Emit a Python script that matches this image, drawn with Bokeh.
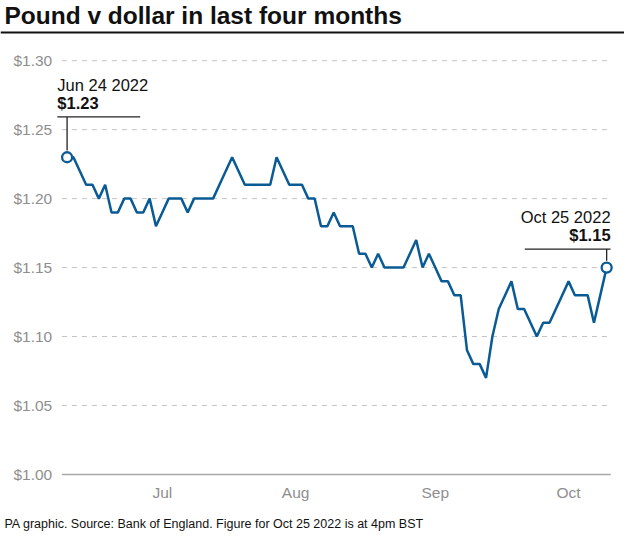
import numpy as np
import pandas as pd
from bokeh.plotting import figure
from bokeh.models import Range1d
from bokeh.core.properties import value
from bokeh.embed import file_html
from bokeh.resources import INLINE

# ---------------- data ----------------
title_text = "Pound v dollar in last four months"
footer_text = "PA graphic. Source: Bank of England. Figure for Oct 25 2022 is at 4pm BST"

bank_holidays = ["2022-08-29", "2022-09-19"]
dates = pd.bdate_range("2022-06-24", "2022-10-25")
dates = dates[~dates.isin(pd.to_datetime(bank_holidays))]

rates = [
    1.23, 1.23, 1.22, 1.21, 1.21, 1.20, 1.21, 1.19, 1.19, 1.20,
    1.20, 1.19, 1.19, 1.20, 1.18, 1.19, 1.20, 1.20, 1.20, 1.19,
    1.20, 1.20, 1.20, 1.20, 1.21, 1.22, 1.23, 1.22, 1.21, 1.21,
    1.21, 1.21, 1.21, 1.23, 1.22, 1.21, 1.21, 1.21, 1.20, 1.20,
    1.18, 1.18, 1.19, 1.18, 1.18, 1.18, 1.16, 1.16, 1.15, 1.16,
    1.15, 1.15, 1.15, 1.15, 1.16, 1.17, 1.15, 1.16, 1.15, 1.14,
    1.14, 1.13, 1.13, 1.09, 1.08, 1.08, 1.07, 1.10, 1.12, 1.13,
    1.14, 1.12, 1.12, 1.11, 1.10, 1.11, 1.11, 1.12, 1.13, 1.14,
    1.13, 1.13, 1.13, 1.11, 1.13, 1.15,
]

month_labels = ["Jul", "Aug", "Sep", "Oct"]
month_label_dates = ["2022-07-15", "2022-08-15", "2022-09-15", "2022-10-15"]
y_ticks = [1.00, 1.05, 1.10, 1.15, 1.20, 1.25, 1.30]
y_tick_labels = [f"${v:.2f}" for v in y_ticks]

# ---------------- layout ----------------
BLUE = "#0a5b94"
GREY_TXT = "#8e8e8e"
INK = "#111111"
FONT = "Liberation Sans"

W, H = 624, 539
SX, SY = W / 640, H / 555          # design grid (640x555) -> canvas

FRAME_L, FRAME_R = 63 * SX, 626 * SX
FRAME_T, FRAME_B = 62 * SY, 488 * SY
FIRST_PX, LAST_PX = 68.3 * SX, 621.7 * SX

n = len(rates)
XPP = (n - 1) / (LAST_PX - FIRST_PX)           # data units per canvas px
YPP = (y_ticks[-1] - y_ticks[0]) / (FRAME_B - FRAME_T)
X0 = 0 - FIRST_PX * XPP
X1 = X0 + W * XPP
Y1 = y_ticks[-1] + FRAME_T * YPP
Y0 = Y1 - H * YPP

def dx(px):
    return X0 + px * XPP

def dy(py):
    return Y1 - py * YPP

idx = np.arange(n)
tick_pos = [int(np.searchsorted(dates.values, np.datetime64(d))) for d in month_label_dates]

p = figure(width=W, height=H, output_backend="svg", toolbar_location=None,
           x_range=Range1d(X0, X1), y_range=Range1d(Y0, Y1),
           x_axis_location=None, y_axis_location=None,
           min_border_left=0, min_border_right=0, min_border_top=0, min_border_bottom=0)
p.outline_line_color = None
p.background_fill_color = "white"
p.border_fill_color = "white"
p.grid.visible = False

# grid lines (dashed) and baseline (solid)
k = len(y_ticks) - 1
p.segment(x0=[dx(FRAME_L)] * k, x1=[dx(FRAME_R)] * k, y0=y_ticks[1:], y1=y_ticks[1:],
          line_color="#c4c4c4", line_width=1, line_dash="5 5")
p.segment(x0=[dx(FRAME_L)], x1=[dx(FRAME_R)], y0=[y_ticks[0]], y1=[y_ticks[0]],
          line_color="#a9a9a9", line_width=1.5)

# y tick labels
p.text(x=[dx(53 * SX)] * len(y_ticks), y=y_ticks, text=y_tick_labels,
       text_font=value(FONT), text_font_size="15.5px", text_color=GREY_TXT,
       text_align="right", text_baseline="middle")
# x tick labels
p.text(x=tick_pos, y=[dy(507 * SY)] * len(tick_pos), text=month_labels,
       text_font=value(FONT), text_font_size="15.5px", text_color=GREY_TXT,
       text_align="center", text_baseline="middle")

# series
p.line(idx, rates, line_color=BLUE, line_width=2.5)
p.scatter([idx[0], idx[-1]], [rates[0], rates[-1]], size=10, marker="circle",
          fill_color="white", line_color=BLUE, line_width=2.3)

def fmt_date(d):
    return f"{d:%b} {d.day} {d.year}"

def ox(px):
    return px * SX * XPP

def oy(px):
    return px * SY * YPP

# annotation: first point
fx, fy = idx[0], rates[0]
p.segment(x0=[fx + ox(-10)], y0=[fy + oy(41.5)], x1=[fx + ox(75)], y1=[fy + oy(41.5)],
          line_color="#222222", line_width=1.3)
p.segment(x0=[fx], y0=[fy + oy(41.5)], x1=[fx], y1=[fy + oy(7)],
          line_color="#222222", line_width=1.3)
p.text(x=[fx + ox(-10)], y=[fy + oy(74)], text=[fmt_date(dates[0])],
       text_font=value(FONT), text_font_size="16.5px", text_color=INK,
       text_align="left", text_baseline="middle")
p.text(x=[fx + ox(-10)], y=[fy + oy(56)], text=[f"${rates[0]:.2f}"],
       text_font=value(FONT), text_font_size="16.5px", text_font_style="bold", text_color=INK,
       text_align="left", text_baseline="middle")

# annotation: last point
lx, ly = idx[-1], rates[-1]
p.segment(x0=[lx + ox(-84)], y0=[ly + oy(19)], x1=[lx + ox(4)], y1=[ly + oy(19)],
          line_color="#222222", line_width=1.3)
p.segment(x0=[lx], y0=[ly + oy(19)], x1=[lx], y1=[ly + oy(7)],
          line_color="#222222", line_width=1.3)
p.text(x=[lx + ox(4)], y=[ly + oy(52)], text=[fmt_date(dates[-1])],
       text_font=value(FONT), text_font_size="16.5px", text_color=INK,
       text_align="right", text_baseline="middle")
p.text(x=[lx + ox(4)], y=[ly + oy(34)], text=[f"${rates[-1]:.2f}"],
       text_font=value(FONT), text_font_size="16.5px", text_font_style="bold", text_color=INK,
       text_align="right", text_baseline="middle")

# title, rule, footer
p.text(x=[dx(4 * SX)], y=[dy(15 * SY)], text=[title_text], text_font=value(FONT),
       text_font_size="24.5px", text_font_style="bold", text_color=INK,
       text_align="left", text_baseline="middle")
p.segment(x0=[dx(0)], x1=[dx(W)], y0=[dy(33 * SY)], y1=[dy(33 * SY)], line_color=INK, line_width=2)
p.text(x=[dx(4 * SX)], y=[dy(539 * SY)], text=[footer_text], text_font=value(FONT),
       text_font_size="12.5px", text_color=INK, text_align="left", text_baseline="middle")

open("out.html", "w").write(file_html(p, INLINE))
